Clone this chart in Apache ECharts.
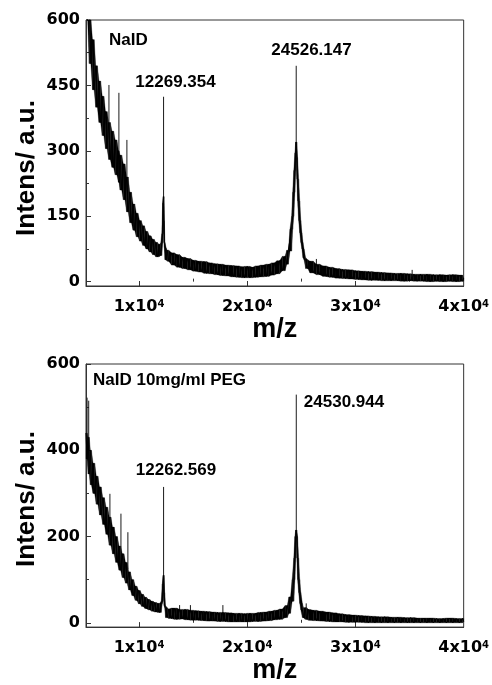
<!DOCTYPE html>
<html>
<head>
<meta charset="utf-8">
<script src="https://cdn.jsdelivr.net/npm/echarts@6/dist/echarts.min.js"></script>
<style>html,body{margin:0;padding:0;background:#fff}#c{width:492px;height:685px}</style>
</head>
<body>
<div id="c"></div>
<script>
// ---- data ----
// spectrum trace [m/z, intensity] (noise traced as up/down excursions)
var spectrumNaID = [
[5100,760],[5250,600],[5400,650],[5550,500],[5700,555],[5850,440],[6000,495],[6150,400],[6300,460],[6450,365],[6600,425],[6750,335],[6900,390],[7050,305],[7200,365],[7350,280],[7500,345],[7650,262],[7800,325],[7950,245],[8100,300],[8150,228],[8250,290],[8400,210],[8550,270],[8700,188],[8850,240],[9000,160],[9150,205],[9300,135],[9450,178],[9600,118],[9750,157],[9900,103],[10050,140],[10200,93],[10350,128],[10500,83],[10650,115],[10800,75],[10950,105],[11100,68],[11250,97],[11400,62],[11550,90],[11700,57],[11850,85],[12000,60],[12100,88],[12180,110],[12230,180],[12269,195],[12300,140],[12340,90],[12400,78],[12500,50],[12600,72],[12750,47],
[13000,66],[13250,38],[13500,62],[13750,33],[14000,56],[14250,30],[14500,53],[14750,27],[15000,49],[15250,24],[15500,47],[15750,22],[16000,46],[16250,19],[16500,43],[16750,18],[17000,41],[17250,16],[17500,40],[17750,14],[18000,38],[18250,13],[18500,37],[18750,11],[19000,36],[19250,10],[19500,34],[19750,9],[20000,35],[20250,9],[20500,33],[20750,10],[21000,36],[21250,11],[21500,38],[21750,12],[22000,40],[22250,15],[22500,43],[22750,18],[23000,48],[23250,25],[23500,58],
[23650,40],[23800,72],[23950,70],[24100,120],[24200,150],[24300,205],[24400,255],[24480,295],[24526,320],[24580,285],[24650,235],[24750,185],[24850,140],[24950,112],[25050,90],[25150,75],[25250,55],[25400,50],[25600,30],
[25800,47],[26100,20],[26400,40],[26700,16],[27000,36],[27300,12],[27600,33],[27900,10],[28200,30],[28500,8],[28800,28],[29100,7],[29400,27],[29700,6],[30000,25],[30300,5],[30600,24],[30900,4],[31200,23],[31500,3],[31800,22],[32100,3],[32400,21],[32700,2],[33000,20],[33300,2],[33600,19],[33900,2],[34200,19],[34500,1],[34800,18],[35100,2],[35400,17],[35700,1],[36000,17],[36300,1],[36600,17],[36900,0],[37200,16],[37500,1],[37800,16],[38100,0],[38400,15],[38700,1],[39000,16],[39300,0],[39600,15],[39900,1],[40000,8]
];
// narrow spikes and peak tips [m/z, base, top]
var spikesNaID = [[7220, 340, 451], [8140, 260, 433], [8880, 210, 325], [12269, 190, 424], [24526, 310, 495], [26390, 30, 52], [35240, 10, 27]];

var spectrumNaIDPeg = [
[5100,440],[5200,380],[5300,430],[5400,345],[5500,400],[5600,320],[5750,370],[5900,300],[6050,340],[6200,275],[6350,315],[6500,250],[6650,290],[6800,228],[6950,268],[7100,205],[7250,245],[7400,180],[7550,222],[7700,160],[7850,200],[8000,140],[8150,178],[8300,122],[8450,160],[8600,105],[8750,140],[8900,92],[9050,118],[9200,76],[9350,100],[9500,63],[9650,85],[9800,52],[9950,75],[10100,44],[10250,66],[10400,38],[10550,59],[10700,33],[10850,54],[11000,30],[11150,50],[11300,27],[11450,47],[11600,25],[11750,45],[11900,24],[12050,44],[12150,50],[12220,90],[12270,110],[12310,70],[12370,40],[12450,35],[12600,12],[12750,32],
[13000,10],[13250,34],[13500,8],[13750,31],[14000,9],[14250,31],[14500,7],[14750,29],[15000,6],[15250,28],[15500,6],[15750,27],[16000,5],[16250,26],[16500,4],[16750,25],[17000,4],[17250,24],[17500,3],[17750,24],[18000,3],[18250,23],[18500,2],[18750,22],[19000,2],[19250,22],[19500,2],[19750,21],[20000,2],[20250,22],[20500,3],[20750,22],[21000,3],[21250,24],[21500,4],[21750,25],[22000,5],[22250,27],[22500,7],[22750,29],[23000,8],[23250,32],[23500,12],
[23700,40],[23850,22],[24000,60],[24150,50],[24300,100],[24400,150],[24480,200],[24531,215],[24580,200],[24650,150],[24750,100],[24850,70],[24950,45],[25100,30],[25200,12],[25350,35],[25500,8],[25650,31],[25800,6],
[26100,29],[26400,5],[26700,27],[27000,4],[27300,25],[27600,3],[27900,23],[28200,2],[28500,21],[28800,2],[29100,19],[29400,1],[29700,18],[30000,1],[30300,17],[30600,1],[30900,16],[31200,0],[31500,15],[31800,0],[32100,14],[32400,0],[32700,14],[33000,0],[33300,13],[33600,0],[33900,13],[34200,0],[34500,12],[34800,0],[35100,12],[35400,0],[35700,11],[36000,0],[36300,11],[36600,0],[36900,11],[37200,0],[37500,10],[37800,0],[38100,10],[38400,0],[38700,11],[39000,0],[39300,10],[39600,0],[39900,10],[40000,3]
];
var spikesNaIDPeg = [[5200, 420, 522], [5350, 410, 515], [7310, 235, 299], [8330, 150, 253], [8970, 125, 210], [12270, 100, 315], [13750, 28, 41], [14750, 26, 41], [17750, 22, 41], [24531, 205, 529], [25450, 30, 45]];

var xLabelValues = [10000, 20000, 30000, 40000];
var xMajorTicks = [10000, 20000, 30000];
var xMinorTicks = [15000, 25000, 35000];
var yTopLabels = [0, 150, 300, 450, 600];
var yTopMinor = [75, 225, 375, 525];
var yBottomLabels = [0, 200, 400, 600];
var yBottomMinor = [100, 300, 500];
var panelTitles = ['NaID', 'NaID 10mg/ml PEG'];
var peakLabels = ['12269.354', '24526.147', '12262.569', '24530.944'];

var AX = '#333';
var TICKFONT = 'DejaVu Sans';
var TXTFONT = 'Liberation Sans';

// noise band segments: local min / max of each point and its neighbours
function bandSegments(data) {
  var n = data.length, lo = [], hi = [], segs = [];
  for (var i = 0; i < n; i++) {
    var a = data[Math.max(i - 1, 0)][1], b = data[i][1], c = data[Math.min(i + 1, n - 1)][1];
    lo.push(Math.min(a, b, c));
    hi.push(Math.max(a, b, c));
  }
  for (var j = 0; j < n - 1; j++) {
    segs.push([data[j][0], lo[j], hi[j], data[j + 1][0], lo[j + 1], hi[j + 1]]);
  }
  return segs;
}
function clipRect(cs) { return {x: cs.x, y: cs.y, width: cs.width, height: cs.height}; }
function renderBand(params, api) {
  var p = [
    api.coord([api.value(0), api.value(1)]),
    api.coord([api.value(3), api.value(4)]),
    api.coord([api.value(3), api.value(5)]),
    api.coord([api.value(0), api.value(2)])
  ];
  var pts = echarts.graphic.clipPointsByRect(p, clipRect(params.coordSys));
  return {type: 'polygon', shape: {points: pts}, style: {fill: '#000', stroke: '#000', lineWidth: 0.3}, silent: true};
}
function renderSpike(params, api) {
  var a = api.coord([api.value(0), api.value(1)]);
  var b = api.coord([api.value(0), api.value(2)]);
  var pts = echarts.graphic.clipPointsByRect([a, b], clipRect(params.coordSys));
  return {type: 'line', shape: {x1: pts[0][0], y1: pts[0][1], x2: pts[1][0], y2: pts[1][1]},
    style: {stroke: '#1a1a1a', lineWidth: 1}, silent: true};
}

function xMain(grid) {
  return {
    type: 'value', gridIndex: grid, min: 5100, max: 40000,
    axisLine: {show: true, onZero: false, lineStyle: {color: AX, width: 1}},
    axisTick: {show: true, inside: true, length: 5, customValues: xMajorTicks, lineStyle: {color: AX}},
    axisLabel: {
      customValues: xLabelValues, margin: 13,
      formatter: function (v) { return '{n|' + (v / 10000) + 'x10}{s|4}'; },
      rich: {
        n: {fontFamily: TICKFONT, fontWeight: 'bold', fontSize: 16, color: '#000'},
        s: {fontFamily: TICKFONT, fontWeight: 'bold', fontSize: 10, color: '#000', verticalAlign: 'top'}
      }
    },
    splitLine: {show: false},
    name: 'm/z', nameLocation: 'middle', nameGap: 29,
    nameTextStyle: {fontFamily: TXTFONT, fontWeight: 'bold', fontSize: 27, color: '#000'}
  };
}
function xMinor(grid) {
  return {
    type: 'value', gridIndex: grid, min: 5100, max: 40000, position: 'bottom',
    axisLine: {show: false},
    axisTick: {show: true, inside: true, length: 3, customValues: xMinorTicks, lineStyle: {color: AX}},
    axisLabel: {show: false}, splitLine: {show: false}
  };
}
function yMain(grid, labels) {
  return {
    type: 'value', gridIndex: grid, min: -10, max: 600,
    axisLine: {show: true, onZero: false, lineStyle: {color: AX, width: 1}},
    axisTick: {show: true, inside: true, length: 5, customValues: labels, lineStyle: {color: AX}},
    axisLabel: {customValues: labels, margin: 6, fontFamily: TICKFONT, fontWeight: 'bold', fontSize: 16, color: '#000'},
    splitLine: {show: false}
  };
}
function yMinor(grid, ticks) {
  return {
    type: 'value', gridIndex: grid, min: -10, max: 600, position: 'left',
    axisLine: {show: false},
    axisTick: {show: true, inside: true, length: 3, customValues: ticks, lineStyle: {color: AX}},
    axisLabel: {show: false}, splitLine: {show: false}
  };
}
function txt(x, y, text, size, align, rot) {
  return {
    type: 'text', x: x, y: y, rotation: rot || 0,
    style: {text: text, fontFamily: TXTFONT, fontWeight: 'bold', fontSize: size, fill: '#000',
      align: align || 'center', verticalAlign: 'middle'}
  };
}
function spectrumSeries(data, spikes, xi, yi) {
  return [
    {type: 'custom', xAxisIndex: xi, yAxisIndex: yi, data: bandSegments(data), renderItem: renderBand,
      encode: {x: [0, 3], y: [1, 2, 4, 5]}, silent: true},
    {type: 'line', xAxisIndex: xi, yAxisIndex: yi, data: data, symbol: 'none',
      lineStyle: {color: '#000', width: 1}, silent: true},
    {type: 'custom', xAxisIndex: xi, yAxisIndex: yi, data: spikes, renderItem: renderSpike,
      encode: {x: 0, y: [1, 2]}, silent: true}
  ];
}

var chart = echarts.init(document.getElementById('c'), null, {renderer: 'canvas'});
chart.setOption({
  animation: false,
  backgroundColor: '#fff',
  grid: [
    {left: 86, top: 20, width: 378, height: 266, show: true, borderColor: AX, borderWidth: 1, backgroundColor: 'transparent'},
    {left: 86, top: 364, width: 379, height: 268, show: true, borderColor: AX, borderWidth: 1, backgroundColor: 'transparent'}
  ],
  xAxis: [xMain(0), xMinor(0), xMain(1), xMinor(1)],
  yAxis: [yMain(0, yTopLabels), yMinor(0, yTopMinor), yMain(1, yBottomLabels), yMinor(1, yBottomMinor)],
  series: spectrumSeries(spectrumNaID, spikesNaID, 0, 0).concat(spectrumSeries(spectrumNaIDPeg, spikesNaIDPeg, 2, 2)),
  graphic: [
    txt(27, 168, 'Intens/ a.u.', 26, 'center', Math.PI / 2),
    txt(27, 499, 'Intens/ a.u.', 26, 'center', Math.PI / 2),
    txt(109, 40, panelTitles[0], 17, 'left'),
    txt(93, 380, panelTitles[1], 17, 'left'),
    txt(175.5, 82, peakLabels[0], 17),
    txt(311.5, 50, peakLabels[1], 17),
    txt(176, 470, peakLabels[2], 17),
    txt(344, 402, peakLabels[3], 17)
  ]
});
</script>
</body>
</html>
